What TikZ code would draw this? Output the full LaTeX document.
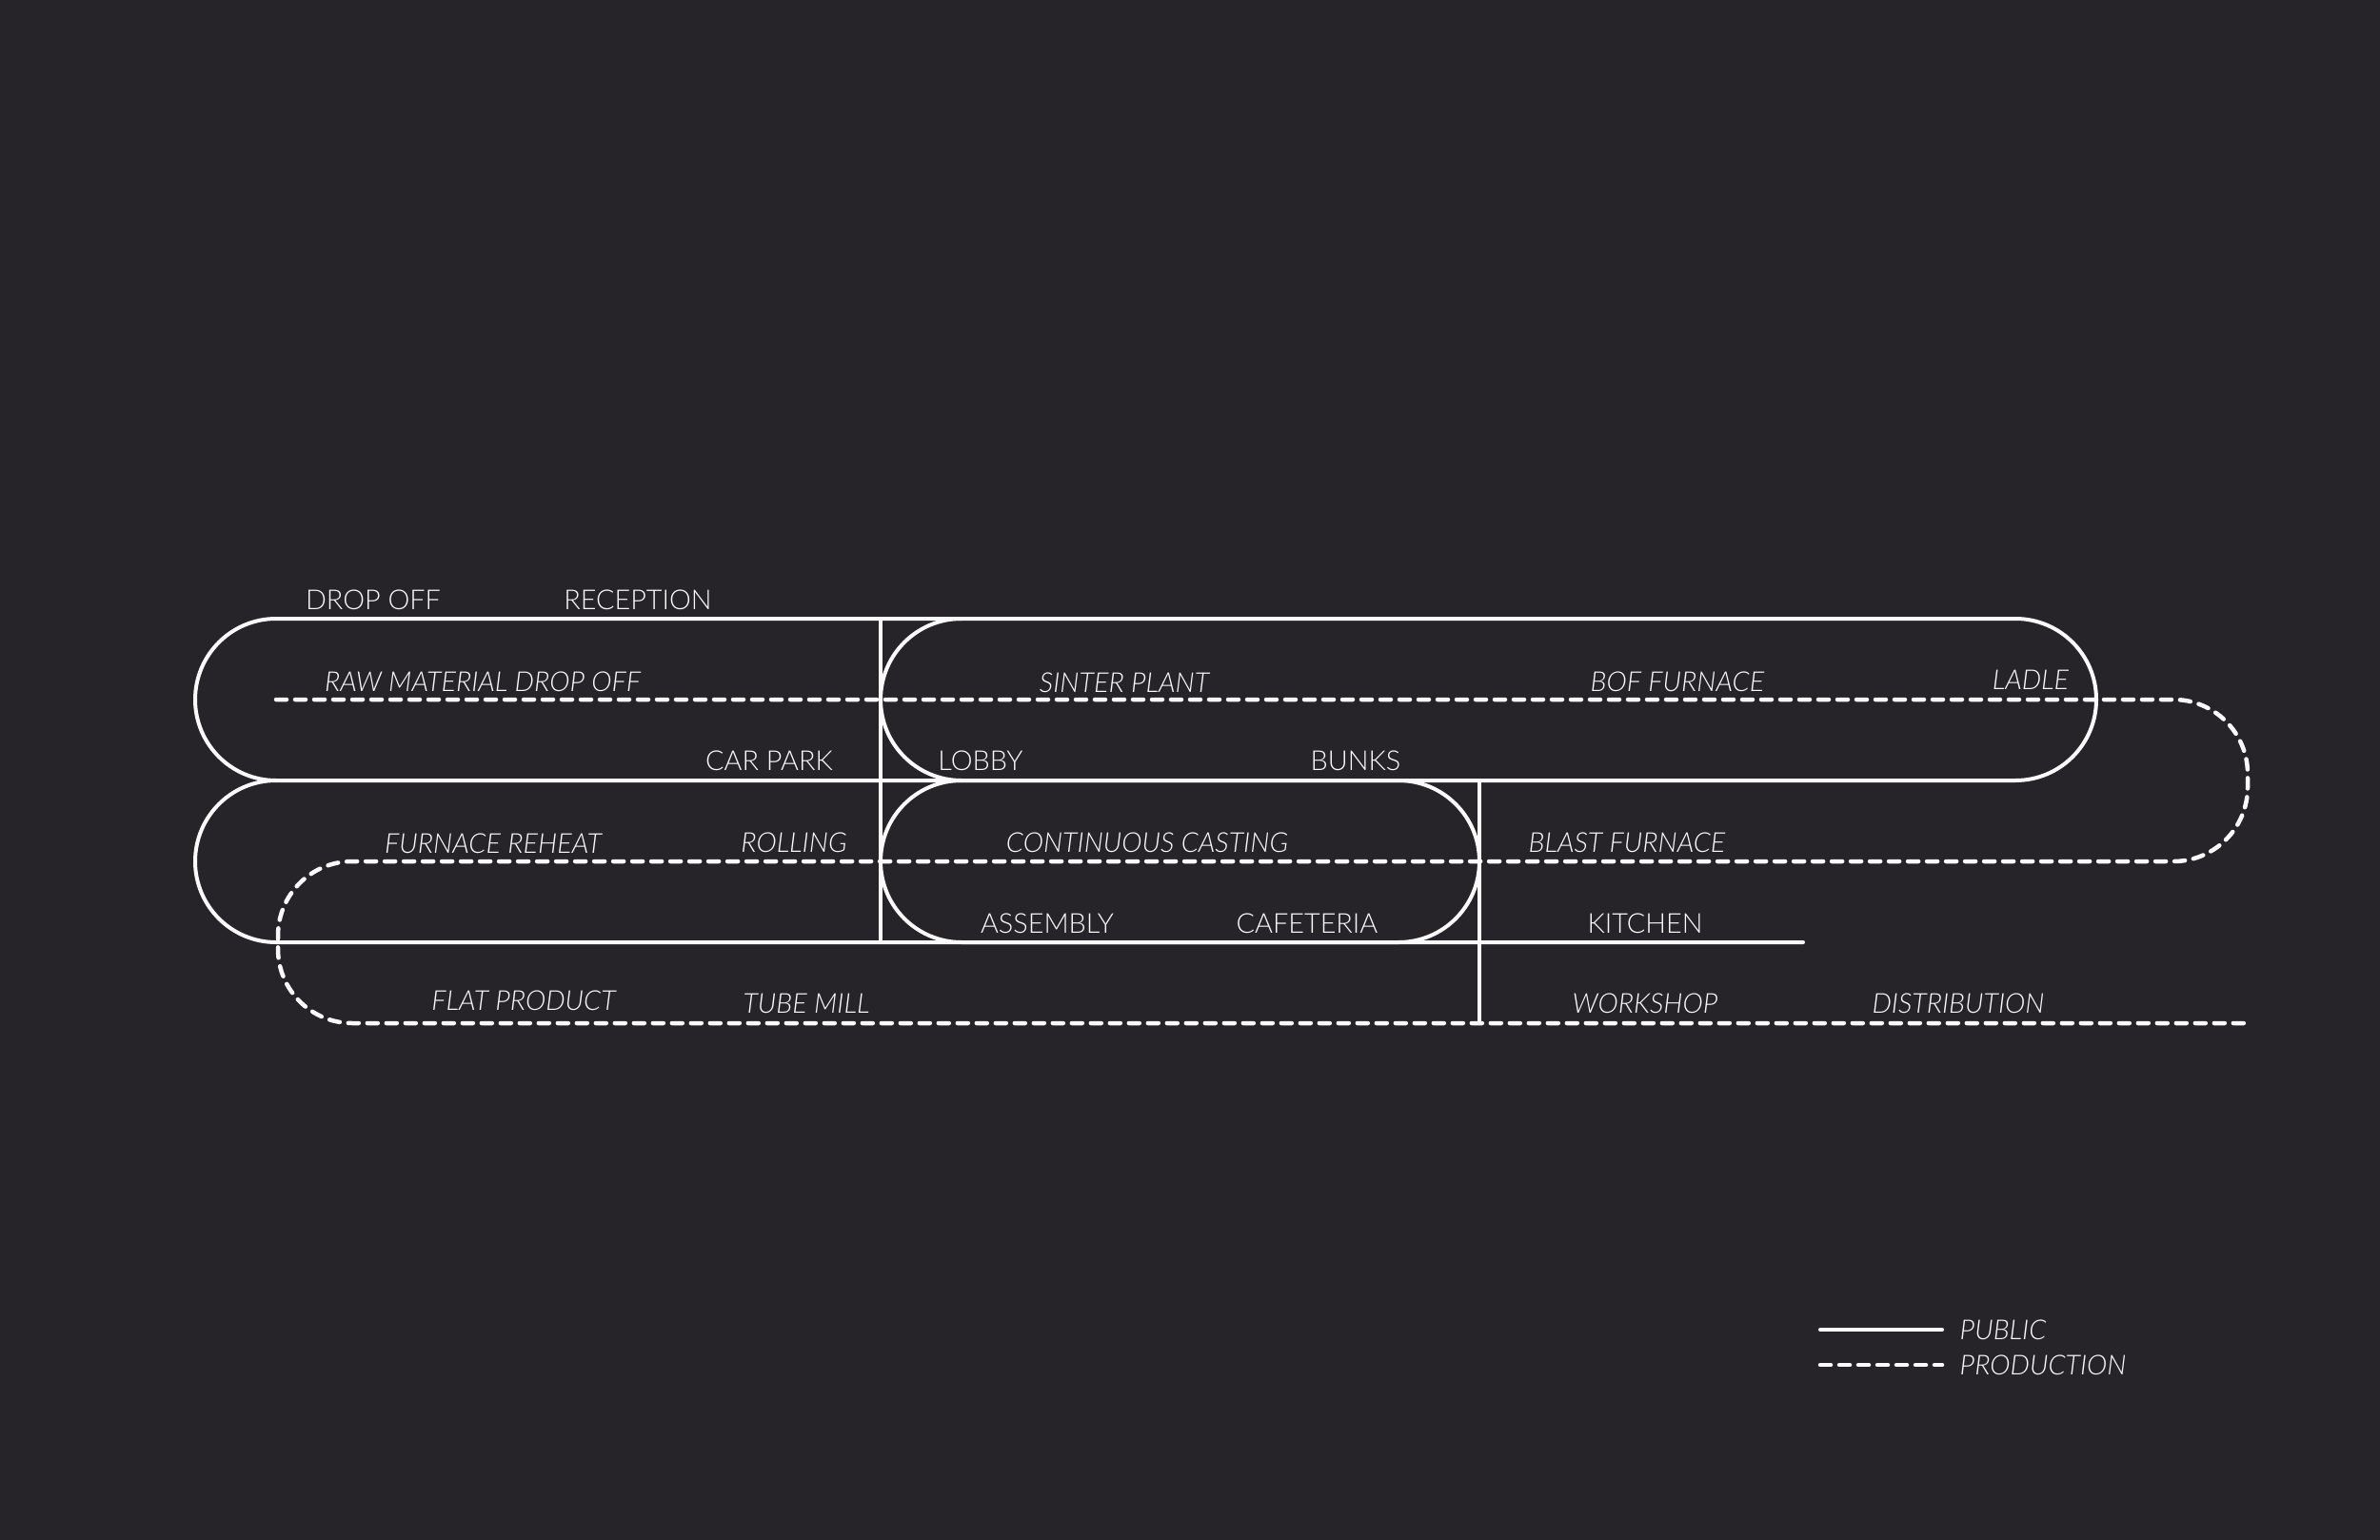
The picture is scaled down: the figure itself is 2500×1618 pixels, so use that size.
\documentclass[tikz,border=0pt]{standalone}
\usepackage{fontspec}
\setmainfont{Lato}[UprightFont={Lato Light},ItalicFont={Lato Light Italic}]
\usepackage{xcolor}
\definecolor{BgCol}{RGB}{39,36,41}
\definecolor{LineCol}{RGB}{250,250,250}
\usepackage{tikz}
\tikzstyle{Public}=[draw=LineCol,line width=0.4mm,line cap=round]
\tikzstyle{Production}=[draw=LineCol,line width=0.45mm,line cap=round,
dash pattern=on 1.1mm off 0.9mm]
\tikzstyle{NodePub}=[text=LineCol,inner sep=0pt,font=\fontsize{8.2}{9}\selectfont]
\tikzstyle{NodeProd}=[text=LineCol!90,inner sep=0pt,
font=\fontsize{8.2}{9}\selectfont\itshape]

\begin{document}
\begin{tikzpicture}[x=0.1mm,y=-0.1mm]
        \fill[BgCol](0,0)rectangle(2500,1618);
        \useasboundingbox(0,0)rectangle(2500,1618);
        % public
        \draw[Public,rounded corners=8.5mm](1000,820)--(205,820)--(205,650)
            --(2202,650)--(2202,820)--cycle;
        \draw[Public,rounded corners=8.5mm](290,820)--(205,820)--(205,990)
            --(1894,990);
        \draw[Public,rounded corners=8.5mm](1010,650)--(925,650)--(925,820)
            --(1010,820);
        \draw[Public,rounded corners=8.5mm](1200,820)--(1554,820)--(1554,990)
            --(925,990)--(925,820)--cycle;
        \draw[Public](925,650)--(925,990);
        \draw[Public](1554,820)--(1554,1075);
        % production
        \draw[Production,rounded corners=7.8mm](290,735)--(2361,735)
            --(2361,905)--(292,905)--(292,1075)--(2363,1075);
        % labels
        \node[NodePub](dropoff)at(392,630){DROP OFF};
        \node[NodePub](reception)at(670,630){RECEPTION};
        \node[NodePub](carpark)at(808,799){CAR PARK};
        \node[NodePub](lobby)at(1030,799){LOBBY};
        \node[NodePub](bunks)at(1424,799){BUNKS};
        \node[NodePub](assembly)at(1100,970){ASSEMBLY};
        \node[NodePub](cafeteria)at(1373,970){CAFETERIA};
        \node[NodePub](kitchen)at(1728,970){KITCHEN};
        \node[NodeProd](raw)at(507,716){RAW MATERIAL DROP OFF};
        \node[NodeProd](sinter)at(1181,717){SINTER PLANT};
        \node[NodeProd](bof)at(1762,716){BOF FURNACE};
        \node[NodeProd](ladle)at(2133,714){LADLE};
        \node[NodeProd](reheat)at(518,886){FURNACE REHEAT};
        \node[NodeProd](rolling)at(834,885){ROLLING};
        \node[NodeProd](casting)at(1205,885){CONTINUOUS CASTING};
        \node[NodeProd](blast)at(1709,885){BLAST FURNACE};
        \node[NodeProd](flat)at(550,1051){FLAT PRODUCT};
        \node[NodeProd](tube)at(847,1054){TUBE MILL};
        \node[NodeProd](workshop)at(1728,1054){WORKSHOP};
        \node[NodeProd](distribution)at(2057,1054){DISTRIBUTION};
        % legend
        \coordinate(pubA)at(1912,1397);
        \coordinate(pubB)at(2040,1397);
        \coordinate(prodA)at(1912,1434);
        \coordinate(prodB)at(2040,1434);
        \draw[Public](pubA)--(pubB);
        \draw[Production](prodA)--(prodB);
        \node[NodeProd,anchor=west](public)at(2058,1397){PUBLIC};
        \node[NodeProd,anchor=west](production)at(2058,1434){PRODUCTION};
    \end{tikzpicture}
\end{document}
